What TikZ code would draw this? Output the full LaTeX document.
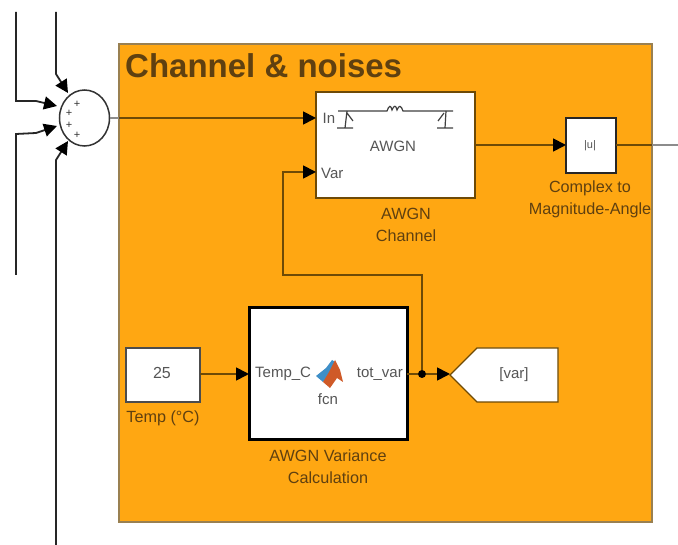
\documentclass[tikz,border=0pt]{standalone}
\usepackage{fontspec}
\setmainfont{Liberation Sans}
\usetikzlibrary{arrows.meta,calc,shapes.geometric}
\definecolor{panel}{HTML}{FFA712}
\definecolor{brownline}{HTML}{6E4A06}
\definecolor{labelc}{HTML}{5F4010}
\definecolor{graytxt}{HTML}{555555}
\definecolor{logoblue}{HTML}{3F8FC8}
\definecolor{logored}{HTML}{CF5A28}
\tikzset{
  px/.style={x=1pt,y=-1pt},
  blockbox/.style={draw=#1,fill=white,anchor=north west,inner sep=0pt,outer sep=0pt},
  wire/.style={draw=brownline,line width=1.8pt},
  inwire/.style={draw=black!85,line width=1.8pt},
  tip/.style={-{Triangle[length=13pt,width=13pt,black]}},
  lab/.style={font=\fontsize{16.2}{22}\selectfont,text=labelc,align=center,inner sep=0pt},
  port/.style={font=\fontsize{15}{16}\selectfont,text=graytxt,inner sep=0pt},
  plus/.style={font=\fontsize{11}{11}\selectfont,text=black!80,inner sep=0pt}
}
\begin{document}
\begin{tikzpicture}[px]
\useasboundingbox (0,0) rectangle (678,545);
\fill[white] (0,0) rectangle (678,545);
\node[draw=brownline!70!white,line width=1.2pt,fill=panel,anchor=north west,minimum width=533pt,minimum height=478pt,inner sep=0pt,outer sep=0pt] (panel) at (119,44) {};
\node[anchor=west,font=\bfseries\fontsize{33}{33}\selectfont,text=labelc,inner sep=0pt] (title) at (125,66) {Channel \& noises};

% blocks
\node[blockbox=brownline,line width=1.4pt,minimum width=159pt,minimum height=106pt] (awgn) at (316,92) {};
\node[blockbox=black!85,line width=1.5pt,minimum width=50pt,minimum height=55pt] (abs) at (566,118) {};
\node[blockbox=black!70,line width=1.4pt,minimum width=74pt,minimum height=54pt] (const) at (126,348) {};
\node[blockbox=black,line width=3pt,minimum width=158pt,minimum height=132pt] (fcn) at (249,308) {};
\node[draw=black!80,fill=white,line width=1.5pt,ellipse,minimum width=50pt,minimum height=56pt,inner sep=0pt,outer sep=0pt] (sum) at (84.5,118) {};
\draw[draw=brownline,line width=1.4pt,fill=white] (450,375) -- (477,348) -- (558,348) -- (558,402) -- (477,402) -- cycle;
\coordinate (gototip) at (450,374);

% text in blocks
\node[port] (inl) at (329,118) {In};
\node[port,anchor=west] (varl) at (321,173) {Var};
\node[port] (awgnt) at (393,146) {AWGN};
\node[port,font=\fontsize{11}{13}\selectfont] (abst) at (590,146) {|u|};
\node[port,font=\fontsize{16}{16}\selectfont] (constt) at (162,373) {25};
\node[port,anchor=west] (tempc) at (255,374) {Temp\_C};
\node[port,anchor=east] (totvar) at (403,374) {tot\_var};
\node[port] (fcnt) at (328,399) {fcn};
\node[port] (gotot) at (514,375) {[var]};

% labels
\node[lab] (l1) at (406,225) {AWGN\\Channel};
\node[lab] (l2) at (590,199) {Complex to\\Magnitude-Angle};
\node[lab] (l3) at (163,418) {Temp (°C)};
\node[lab] (l4) at (328,467) {AWGN Variance\\Calculation};

% sum signs
\node[plus] (p1) at (77,104) {+};
\node[plus] (p2) at (69,113) {+};
\node[plus] (p3) at (69,125) {+};
\node[plus] (p4) at (77,135) {+};

% AWGN icon
\draw[black!75,line width=1.2pt] (338,111) -- (387,111) .. controls (389,105) and (391,105) .. (392,110) .. controls (394,105) and (396,105) .. (397,110) .. controls (399,105) and (401,105) .. (403,111) -- (453,111);
\draw[black!75,line width=1.2pt] (347,111) -- (345,128) (337,128) -- (353,128) (347,113) -- (353,121);
\draw[black!75,line width=1.2pt] (446,111) -- (445,128) (437,128) -- (453,128) (444,113) -- (438,121);

% MATLAB logo
\fill[logoblue] (316,376) -- (326,368) -- (332,360) -- (335,362) -- (329,375) -- (323,382) -- cycle;
\fill[logored] (323,382) -- (329,372) -- (335,360) -- (340,370) -- (343,382) -- (337,378) -- (330,388) -- cycle;

% connectors
\coordinate (a1) at (16,12); \coordinate (a2) at (16,101); \coordinate (a3) at (36,101);
\coordinate (b1) at (16,275); \coordinate (b2) at (16,134); \coordinate (b3) at (36,133);
\coordinate (c1) at (56,12); \coordinate (c2) at (56,74);
\coordinate (d1) at (56,545); \coordinate (d2) at (56,160);
\coordinate (e1) at (57,106); \coordinate (e2) at (57,126); \coordinate (e3) at (68,93); \coordinate (e4) at (68,141);
\draw[inwire,tip] (a1) -- (a2) -- (a3) -- (e1);
\draw[inwire,tip] (b1) -- (b2) -- (b3) -- (e2);
\draw[inwire,tip] (c1) -- (c2) -- (e3);
\draw[inwire,tip] (d1) -- (d2) -- (e4);

\coordinate (inp) at (316,118);
\coordinate (varp) at (316,172);
\coordinate (panelL) at (119,118);
\coordinate (sumout) at (109.5,118);
\coordinate (absin) at (566,145);
\coordinate (awgnout) at (475,145);
\coordinate (absout) at (616,145);
\coordinate (panelR) at (652,145);
\coordinate (outend) at (678,145);
\coordinate (fcnin) at (249,374);
\coordinate (constout) at (200,374);
\coordinate (fcnout) at (407,374);
\node[circle,fill=black,minimum size=8pt,inner sep=0pt] (junc) at (422,374) {};
\draw[draw=black!45,line width=1.8pt] (sumout) -- (panelL);
\draw[wire,tip] (panelL) -- (inp);
\draw[wire,tip] (awgnout) -- (absin);
\draw[wire] (absout) -- (panelR);
\draw[draw=black!45,line width=1.8pt] (panelR) -- (outend);
\draw[wire,tip] (constout) -- (fcnin);
\draw[wire] (fcnout) -- (junc);
\draw[wire,tip] (junc) -- (gototip);
\draw[wire,tip] (junc) -- (422,275) -- (283,275) -- (283,172) -- (varp);
\end{tikzpicture}
\end{document}
